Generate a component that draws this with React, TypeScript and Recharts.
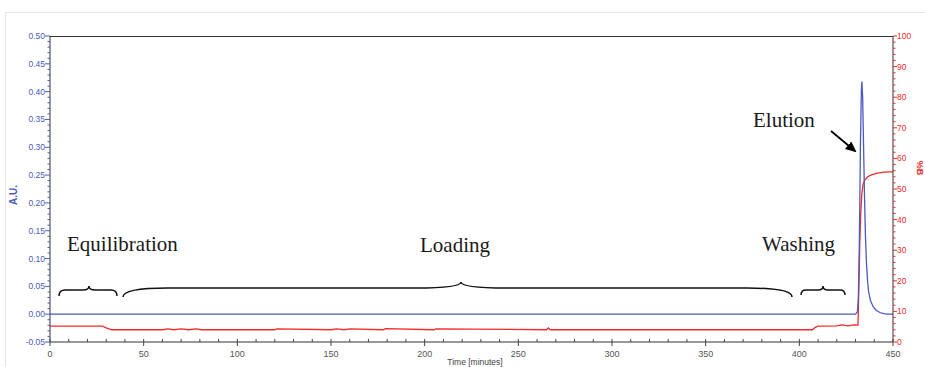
import React from 'react';
import { LineChart, Line, XAxis, YAxis } from 'recharts';

// absorbance trace (A.U.) vs time [minutes]
const BLUE_T = [0, 100, 200, 300, 400, 430, 431, 431.5, 432, 432.6, 433.1, 433.4, 433.8, 434.3, 434.8, 435.3, 435.8, 436.4, 437, 438, 439.5, 441, 443, 445, 447, 450];
const BLUE_V = [0, 0, 0, 0, 0, 0, 0.004, 0.03, 0.12, 0.3, 0.4, 0.418, 0.39, 0.3, 0.21, 0.14, 0.095, 0.06, 0.04, 0.024, 0.013, 0.007, 0.003, 0.001, 0, 0];

// %B trace vs time [minutes]
const RED_T = [0, 28, 30, 33, 60, 63, 66, 70, 74, 78, 81, 120, 121, 150, 153, 157, 160, 178, 179, 205, 206, 265, 266, 267, 340, 407, 408.5, 410, 412, 420, 423, 426, 429, 431.3, 431.8, 432.3, 432.8, 433.3, 434, 435, 436.5, 438.5, 441, 445, 450];
const RED_V = [5.2, 5.2, 4.6, 4.0, 4.0, 4.3, 4.0, 4.3, 4.0, 4.3, 4.0, 4.0, 4.3, 4.0, 4.3, 4.0, 4.3, 4.0, 4.4, 4.0, 4.3, 4.0, 4.6, 4.0, 4.0, 4.0, 4.8, 5.2, 5.2, 5.3, 5.6, 5.3, 5.6, 5.5, 18, 33, 42, 48, 51.5, 53, 54, 54.6, 55.1, 55.5, 55.6];

const X_LABELS = [0, 50, 100, 150, 200, 250, 300, 350, 400, 450];
const LEFT_LABELS = [-0.05, 0, 0.05, 0.1, 0.15, 0.2, 0.25, 0.3, 0.35, 0.4, 0.45, 0.5];
const RIGHT_LABELS = [0, 10, 20, 30, 40, 50, 60, 70, 80, 90, 100];

const blueData = BLUE_T.map((t, i) => ({ t, v: BLUE_V[i] }));
const redData = RED_T.map((t, i) => ({ t, v: RED_V[i] }));

const xTicks: number[] = [];
for (let i = 0; i <= 45; i++) xTicks.push(i * 10);
const leftTicks: number[] = [];
for (let i = -5; i <= 50; i++) leftTicks.push(i / 100);
const rightTicks: number[] = [];
for (let i = 0; i <= 50; i++) rightTicks.push(i * 2);

const BLUE = '#4b5bc0';
const RED = '#f52a2a';
const TICK_FONT = 'Arial, "Liberation Sans", sans-serif';

const isMajor = (v: number, list: number[]) => list.some((l) => Math.abs(l - v) < 1e-6);

function XTick(props: any) {
  const { x, y, payload } = props;
  const major = isMajor(payload.value, X_LABELS);
  return (
    <g>
      <line x1={x} x2={x} y1={y - 3} y2={y + (major ? 4 : 0)} stroke="#444" />
      {major && (
        <text x={x} y={y + 15} textAnchor="middle" fontSize={9} fill="#555" fontFamily={TICK_FONT}>
          {payload.value}
        </text>
      )}
    </g>
  );
}

function LeftTick(props: any) {
  const { x, y, payload } = props;
  const major = isMajor(payload.value, LEFT_LABELS);
  return (
    <g>
      <line x1={x - (major ? 5 : 2.5)} x2={x} y1={y} y2={y} stroke={BLUE} />
      {major && (
        <text x={x - 5} y={y + 3} textAnchor="end" fontSize={8.5} fill={BLUE} fontFamily={TICK_FONT}>
          {payload.value.toFixed(2)}
        </text>
      )}
    </g>
  );
}

function RightTick(props: any) {
  const { x, y, payload } = props;
  const major = isMajor(payload.value, RIGHT_LABELS);
  return (
    <g>
      <line x1={x} x2={x + (major ? 4 : 2.5)} y1={y} y2={y} stroke={RED} />
      {major && (
        <text x={x + 4} y={y + 3} textAnchor="start" fontSize={8.5} fill={RED} fontFamily={TICK_FONT}>
          {payload.value}
        </text>
      )}
    </g>
  );
}

function brace(x1: number, x2: number, xm: number, yb: number, yh: number, yt: number, r: number) {
  return `M ${x1} ${yb} Q ${x1} ${yh} ${x1 + r} ${yh} L ${xm - r} ${yh} Q ${xm} ${yh} ${xm} ${yt} Q ${xm} ${yh} ${xm + r} ${yh} L ${x2 - r} ${yh} Q ${x2} ${yh} ${x2} ${yb}`;
}

const ANNOT_FONT = '"Liberation Serif", "DejaVu Serif", serif';

export default function App() {
  return (
    <div style={{ position: 'absolute', left: 0, top: 0, width: 925, height: 367, background: '#fff', overflow: 'hidden' }}>
      <LineChart width={925} height={367} margin={{ top: 36, right: 0, bottom: 0, left: 0 }}>
        <XAxis
          dataKey="t"
          type="number"
          domain={[0, 450]}
          ticks={xTicks}
          tick={<XTick />}
          tickLine={false}
          tickSize={0}
          tickMargin={0}
          height={25}
          stroke="#333"
          allowDuplicatedCategory={false}
          interval={0}
        />
        <YAxis
          yAxisId="left"
          orientation="left"
          type="number"
          domain={[-0.05, 0.5]}
          ticks={leftTicks}
          tick={<LeftTick />}
          tickLine={false}
          tickSize={0}
          tickMargin={0}
          width={50}
          stroke="#333"
          interval={0}
          allowDataOverflow
        />
        <YAxis
          yAxisId="right"
          orientation="right"
          type="number"
          domain={[0, 100]}
          ticks={rightTicks}
          tick={<RightTick />}
          tickLine={false}
          tickSize={0}
          tickMargin={0}
          width={32}
          stroke="#333"
          interval={0}
          allowDataOverflow
        />
        <Line
          yAxisId="right"
          data={redData}
          dataKey="v"
          stroke={RED}
          strokeWidth={1.3}
          dot={false}
          type="linear"
          isAnimationActive={false}
        />
        <Line
          yAxisId="left"
          data={blueData}
          dataKey="v"
          stroke={BLUE}
          strokeWidth={1.3}
          dot={false}
          type="linear"
          isAnimationActive={false}
        />
      </LineChart>
      <svg width={925} height={367} style={{ position: 'absolute', left: 0, top: 0, pointerEvents: 'none' }}>
        <defs>
          <marker id="arrowhead" markerWidth="11" markerHeight="10" refX="9" refY="5" orient="auto" markerUnits="userSpaceOnUse">
            <path d="M0,0 L11,5 L0,10 Z" fill="#000" />
          </marker>
        </defs>
        <rect x={5.5} y={12.5} width={930} height={360} fill="none" stroke="#e6e6e6" />
        <line x1={50} x2={893} y1={36.5} y2={36.5} stroke="#333" />
        <text x={17} y={195} transform="rotate(-90 17 195)" textAnchor="middle" fontSize={10} fontWeight="bold" fill={BLUE} fontFamily={TICK_FONT}>
          A.U.
        </text>
        <text x={917} y={168} transform="rotate(90 917 168)" textAnchor="middle" fontSize={9} fontWeight="bold" fill={RED} fontFamily={TICK_FONT}>
          %B
        </text>
        <text x={475} y={365} textAnchor="middle" fontSize={8.5} fill="#444" fontFamily={TICK_FONT}>
          Time [minutes]
        </text>
        <g fontFamily={ANNOT_FONT} fontSize={21} fill="#1a1a1a">
          <text x={67} y={251}>Equilibration</text>
          <text x={420} y={252}>Loading</text>
          <text x={762} y={251}>Washing</text>
          <text x={753} y={127}>Elution</text>
        </g>
        <line x1={831} y1={131} x2={855} y2={151} stroke="#000" strokeWidth={1.8} markerEnd="url(#arrowhead)" />
        <g fill="none" stroke="#111" strokeWidth={1.5}>
          <path d={brace(59, 117, 89, 296, 290, 286, 6)} />
          <path d={brace(123, 792, 461, 297, 288, 282, 45)} />
          <path d={brace(801, 845, 823, 295, 290, 286, 5)} />
        </g>
      </svg>
    </div>
  );
}
